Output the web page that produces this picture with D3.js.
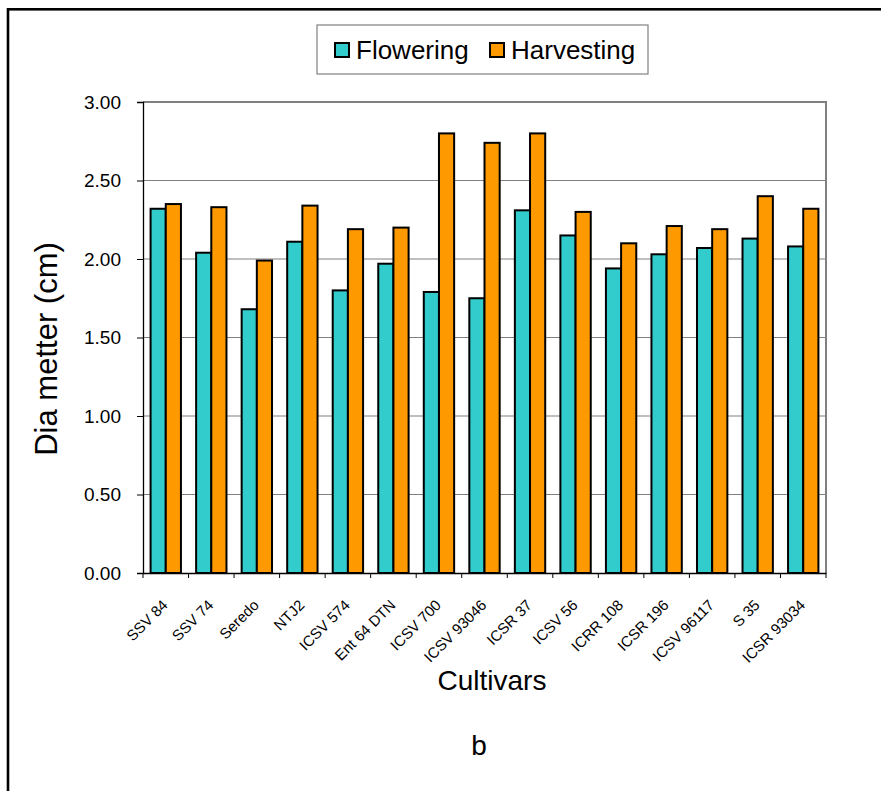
<!DOCTYPE html>
<html>
<head>
<meta charset="utf-8">
<script src="https://cdn.jsdelivr.net/npm/d3@7"></script>
<style>
  html, body { margin: 0; padding: 0; background: #fff; }
  svg { display: block; font-family: "Liberation Sans", Arial, sans-serif; }
</style>
</head>
<body>
<svg id="chart" width="881" height="791"></svg>
<script>
const categories = ["SSV 84", "SSV 74", "Seredo", "NTJ2", "ICSV 574", "Ent 64 DTN", "ICSV 700",
  "ICSV 93046", "ICSR 37", "ICSV 56", "ICRR 108", "ICSR 196", "ICSV 96117", "S 35", "ICSR 93034"];
const flowering = [2.32, 2.04, 1.68, 2.11, 1.80, 1.97, 1.79, 1.75, 2.31, 2.15, 1.94, 2.03, 2.07, 2.13, 2.08];
const harvesting = [2.35, 2.33, 1.99, 2.34, 2.19, 2.20, 2.80, 2.74, 2.80, 2.30, 2.10, 2.21, 2.19, 2.40, 2.32];
const seriesNames = ["Flowering", "Harvesting"];
const seriesColors = ["#33CCCC", "#FF9900"];
const yTicks = [0, 0.5, 1.0, 1.5, 2.0, 2.5, 3.0];

const svg = d3.select("#chart");
const plot = { left: 143, right: 826, top: 102, bottom: 573 };

// outer frame
svg.append("rect").attr("x", 8).attr("y", 9.3).attr("width", 1000).attr("height", 1000)
  .attr("fill", "none").attr("stroke", "#000").attr("stroke-width", 2.6);

const x = d3.scaleBand().domain(categories).range([plot.left, plot.right])
  .paddingInner(0).paddingOuter(0);
const inner = d3.scaleBand().domain(seriesNames)
  .range([x.bandwidth() / 6, x.bandwidth() * 5 / 6]).paddingInner(0);
const y = d3.scaleLinear().domain([0, 3]).range([plot.bottom, plot.top]);

// gridlines
svg.append("g").selectAll("line").data(yTicks.filter(t => t > 0 && t < 3)).join("line")
  .attr("x1", plot.left).attr("x2", plot.right)
  .attr("y1", d => y(d)).attr("y2", d => y(d))
  .attr("stroke", "#808080").attr("stroke-width", 1.2);

// plot border (top, right)
svg.append("path")
  .attr("d", `M${plot.left},${y(3)}H${plot.right}V${plot.bottom}`)
  .attr("fill", "none").attr("stroke", "#808080").attr("stroke-width", 2);

// bars
const rows = categories.map((c, i) => ({ c, vals: [flowering[i], harvesting[i]] }));
const g = svg.append("g").selectAll("g").data(rows).join("g")
  .attr("transform", d => `translate(${x(d.c)},0)`);
g.selectAll("rect").data(d => d.vals.map((v, k) => ({ v, k }))).join("rect")
  .attr("x", d => inner(seriesNames[d.k]))
  .attr("width", inner.bandwidth())
  .attr("y", d => y(d.v))
  .attr("height", d => y(0) - y(d.v))
  .attr("fill", d => seriesColors[d.k])
  .attr("stroke", "#000").attr("stroke-width", 2);

// y axis
const yAxis = d3.axisLeft(y).tickValues(yTicks).tickSize(6).tickPadding(16)
  .tickFormat(d3.format(".2f"));
const yg = svg.append("g").attr("transform", `translate(${plot.left},0)`).call(yAxis);
yg.select(".domain").attr("stroke", "#000").attr("stroke-width", 1.3);
yg.selectAll(".tick line").attr("stroke", "#000");
yg.selectAll(".tick text").attr("font-size", 19).attr("fill", "#000")
  .attr("font-family", "Liberation Sans, Arial, sans-serif");

// x axis
const xAxis = d3.axisBottom(x).tickSize(0).tickFormat("");
const xg = svg.append("g").attr("transform", `translate(0,${plot.bottom})`).call(xAxis);
xg.select(".domain").attr("stroke", "#000").attr("stroke-width", 1.3);
// ticks at category boundaries
const bounds = categories.map(c => x(c)).concat([x(categories[categories.length - 1]) + x.bandwidth()]);
svg.append("g").selectAll("line").data(bounds).join("line")
  .attr("x1", d => d).attr("x2", d => d)
  .attr("y1", plot.bottom).attr("y2", plot.bottom + 5)
  .attr("stroke", "#000").attr("stroke-width", 1);
// rotated labels
svg.append("g").selectAll("text").data(categories).join("text")
  .attr("transform", d => `translate(${x(d) + x.bandwidth() / 2 + 3},${plot.bottom + 33}) rotate(-45)`)
  .attr("text-anchor", "end")
  .attr("font-size", 15).attr("fill", "#000")
  .text(d => d);

// axis titles
svg.append("text")
  .attr("transform", `translate(57,349) rotate(-90)`)
  .attr("text-anchor", "middle").attr("font-size", 31).attr("fill", "#000")
  .text("Dia metter (cm)");
svg.append("text").attr("x", 492).attr("y", 690)
  .attr("text-anchor", "middle").attr("font-size", 28).attr("fill", "#000")
  .text("Cultivars");
svg.append("text").attr("x", 479).attr("y", 755)
  .attr("text-anchor", "middle").attr("font-size", 28).attr("fill", "#000")
  .text("b");

// legend
const leg = svg.append("g");
leg.append("rect").attr("x", 317).attr("y", 25).attr("width", 331).attr("height", 49)
  .attr("fill", "#fff").attr("stroke", "#808080").attr("stroke-width", 1.2);
const legendX = [335, 490];
seriesNames.forEach((name, k) => {
  leg.append("rect").attr("x", legendX[k]).attr("y", 43).attr("width", 14).attr("height", 14)
    .attr("fill", seriesColors[k]).attr("stroke", "#000").attr("stroke-width", 2);
  leg.append("text").attr("x", legendX[k] + 21).attr("y", 58.5)
    .attr("font-size", 26).attr("fill", "#000").text(name);
});
</script>
</body>
</html>
